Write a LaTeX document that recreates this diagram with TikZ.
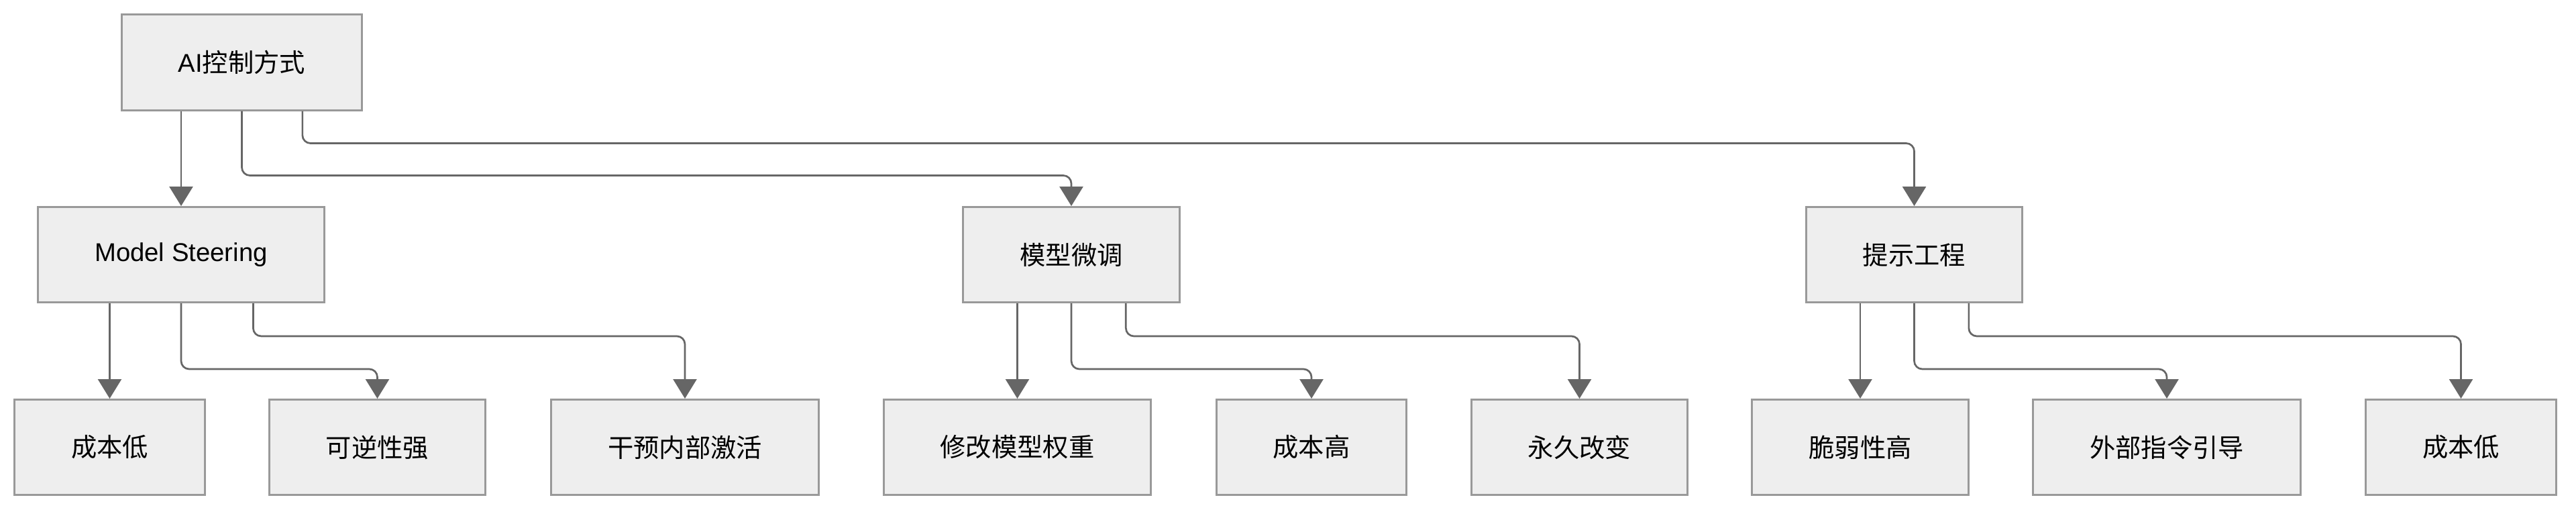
\documentclass[tikz,border=0pt]{standalone}
\usepackage{fontspec}
\setmainfont{Liberation Sans}
\newfontfamily\cjk{Noto Sans CJK SC}
\usetikzlibrary{positioning, arrows.meta, calc}
\definecolor{boxfill}{HTML}{EEEEEE}
\definecolor{boxline}{HTML}{999999}
\definecolor{linkcol}{HTML}{666666}
\tikzset{
  ctrl/.style={rectangle, draw=boxline, fill=boxfill, line width=0.03cm,
    inner xsep=0.845cm, minimum height=1.42cm, font=\fontsize{10.9pt}{13pt}\selectfont},
  link/.style={draw=linkcol, line width=0.027cm, rounded corners=0.12cm,
    -{Triangle[length=0.29cm, width=0.35cm]}}
}

\begin{document}
\begin{tikzpicture}
  \useasboundingbox (0,0) rectangle (38.4,-7.62);
  \node[ctrl] (root) at (3.605, -0.93) {AI{\cjk 控制方式}};
  \node[ctrl] (ms) at (2.70, -3.795) {Model Steering};
  \node[ctrl] (ft) at (15.97, -3.795) {\cjk 模型微调};
  \node[ctrl] (pe) at (28.535, -3.795) {\cjk 提示工程};
  \node[ctrl] (ms1) at (1.635, -6.665) {\cjk 成本低};
  \node[ctrl] (ms2) at (5.625, -6.665) {\cjk 可逆性强};
  \node[ctrl] (ms3) at (10.21, -6.665) {\cjk 干预内部激活};
  \node[ctrl] (ft1) at (15.165, -6.665) {\cjk 修改模型权重};
  \node[ctrl] (ft2) at (19.55, -6.665) {\cjk 成本高};
  \node[ctrl] (ft3) at (23.545, -6.665) {\cjk 永久改变};
  \node[ctrl] (pe1) at (27.73, -6.665) {\cjk 脆弱性高};
  \node[ctrl] (pe2) at (32.30, -6.665) {\cjk 外部指令引导};
  \node[ctrl] (pe3) at (36.685, -6.665) {\cjk 成本低};

  % from the root
  \draw[link] (ms.north |- root.south) -- (ms.north);
  \draw[link] (root.south) -- ++(0,-0.96) -| (ft.north);
  \draw[link] ($(root.south)!0.5!(root.south east)$) -- ++(0,-0.48) -| (pe.north);

  % second level
  \foreach \p in {ms, ft, pe} {
    \draw[link] (\p1.north |- \p.south) -- (\p1.north);
    \draw[link] (\p.south) -- ++(0,-0.98) -| (\p2.north);
    \draw[link] ($(\p.south)!0.5!(\p.south east)$) -- ++(0,-0.49) -| (\p3.north);
  }
\end{tikzpicture}
\end{document}
